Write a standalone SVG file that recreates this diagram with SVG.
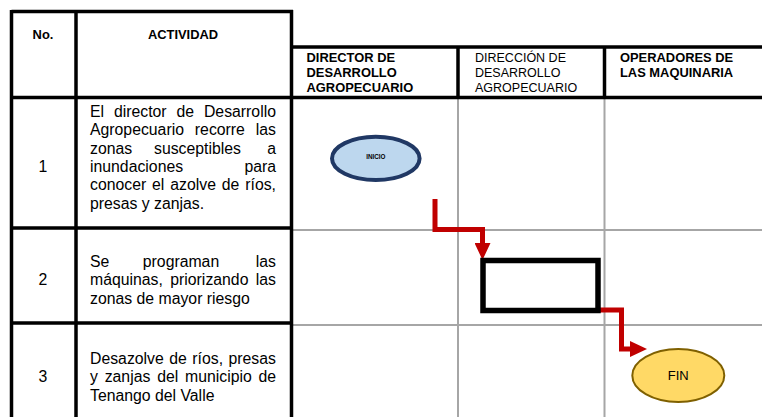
<svg xmlns="http://www.w3.org/2000/svg" width="762" height="417" viewBox="0 0 762 417">
<style>
.thick{stroke:#000;stroke-width:3.5;fill:none}
.gray{stroke:#A6A6A6;stroke-width:2;fill:none}
.hb{font-family:"Liberation Sans",Arial,sans-serif;font-size:12.9px;font-weight:bold;fill:#000}
.hr{font-family:"Liberation Sans",Arial,sans-serif;font-size:12.5px;fill:#000}
.t{font-family:"Liberation Sans",Arial,sans-serif;font-size:15.8px;fill:#000}
.conn{stroke:#C00000;stroke-width:5;fill:none;stroke-linejoin:miter}
</style>
<defs>
<marker id="ah" viewBox="0 0 17 16" refX="1" refY="8" markerWidth="17" markerHeight="16" markerUnits="userSpaceOnUse" orient="auto">
<path d="M0,0 L17,8 L0,16 z" fill="#C00000"/>
</marker>
</defs>
<rect width="762" height="417" fill="#fff"/>
<g id="grid">
<line class="gray" x1="458" y1="99" x2="458" y2="417"/>
<line class="gray" x1="604.5" y1="99" x2="604.5" y2="417"/>
<line class="gray" x1="292" y1="230" x2="762" y2="230"/>
<line class="gray" x1="292" y1="325" x2="762" y2="325"/>
<line class="thick" x1="11.5" y1="11.5" x2="293" y2="11.5" stroke-width="3"/>
<line class="thick" x1="11.5" y1="10" x2="11.5" y2="417" stroke-width="3"/>
<line class="thick" x1="76" y1="10" x2="76" y2="417"/>
<line class="thick" x1="291.5" y1="10" x2="291.5" y2="417"/>
<line class="thick" x1="290" y1="47" x2="762" y2="47"/>
<line class="thick" x1="10" y1="97.5" x2="762" y2="97.5"/>
<line class="thick" x1="458" y1="47" x2="458" y2="98"/>
<line class="thick" x1="604.5" y1="47" x2="604.5" y2="98"/>
<line class="thick" x1="10" y1="228" x2="293" y2="228" stroke-width="4"/>
<line class="thick" x1="10" y1="323" x2="293" y2="323" stroke-width="4"/>
</g>
<g id="header">
<text class="hb" x="43" y="38.5" text-anchor="middle">No.</text>
<text class="hb" x="183" y="38.5" text-anchor="middle">ACTIVIDAD</text>
<text class="hb" x="306.5" y="61.5">DIRECTOR DE</text>
<text class="hb" x="306.5" y="76.5">DESARROLLO</text>
<text class="hb" x="306.5" y="91.5">AGROPECUARIO</text>
<text class="hr" x="475" y="61.5">DIRECCIÓN DE</text>
<text class="hr" x="475" y="76.5">DESARROLLO</text>
<text class="hr" x="475" y="91.5">AGROPECUARIO</text>
<text class="hb" x="620" y="61.5">OPERADORES DE</text>
<text class="hb" x="620" y="76.5">LAS MAQUINARIA</text>
</g>
<g id="row1">
<text class="t" x="43" y="172" text-anchor="middle">1</text>
<text class="t" x="90" y="116.7" word-spacing="5.5">El director de Desarrollo</text>
<text class="t" x="90" y="135.1" word-spacing="6.5">Agropecuario recorre las</text>
<text class="t" x="90" y="153.5">zonas</text>
<text class="t" x="154" y="153.5">susceptibles</text>
<text class="t" x="276" y="153.5" text-anchor="end">a</text>
<text class="t" x="90" y="171.9">inundaciones</text>
<text class="t" x="276" y="171.9" text-anchor="end">para</text>
<text class="t" x="90" y="190.3" word-spacing="1.5">conocer el azolve de ríos,</text>
<text class="t" x="90" y="208.7">presas y zanjas.</text>
</g>
<g id="row2">
<text class="t" x="43" y="285.2" text-anchor="middle">2</text>
<text class="t" x="90" y="266.7">Se</text>
<text class="t" x="181" y="266.7" text-anchor="middle">programan</text>
<text class="t" x="276" y="266.7" text-anchor="end">las</text>
<text class="t" x="90" y="285.2" word-spacing="3">máquinas, priorizando las</text>
<text class="t" x="90" y="303.7">zonas de mayor riesgo</text>
</g>
<g id="row3">
<text class="t" x="43" y="382.3" text-anchor="middle">3</text>
<text class="t" x="90" y="364" word-spacing="1.1">Desazolve de ríos, presas</text>
<text class="t" x="90" y="382.3" word-spacing="2.4">y zanjas del municipio de</text>
<text class="t" x="90" y="400.6">Tenango del Valle</text>
</g>
<g id="connectors">
<path class="conn" d="M435,199 V229.5 H482.5 V244" marker-end="url(#ah)"/>
<path class="conn" d="M597,310 H621.5 V349 H631" marker-end="url(#ah)"/>
</g>
<g id="inicio">
<ellipse cx="375.8" cy="158.4" rx="43.8" ry="21.6" fill="#BDD7EE" stroke="#203864" stroke-width="4"/>
<text x="375.8" y="158.8" text-anchor="middle" font-family="Liberation Sans,Arial,sans-serif" font-size="6.3" font-weight="bold" fill="#000">INICIO</text>
</g>
<g id="proceso">
<rect x="483" y="260.5" width="115" height="50" fill="#fff" stroke="#000" stroke-width="5.5"/>
</g>
<g id="fin">
<ellipse cx="678.3" cy="375.5" rx="46" ry="26.5" fill="#FFD966" stroke="#7F6000" stroke-width="2"/>
<text x="678.3" y="380" text-anchor="middle" font-family="Liberation Sans,Arial,sans-serif" font-size="13" fill="#000">FIN</text>
</g>
</svg>
